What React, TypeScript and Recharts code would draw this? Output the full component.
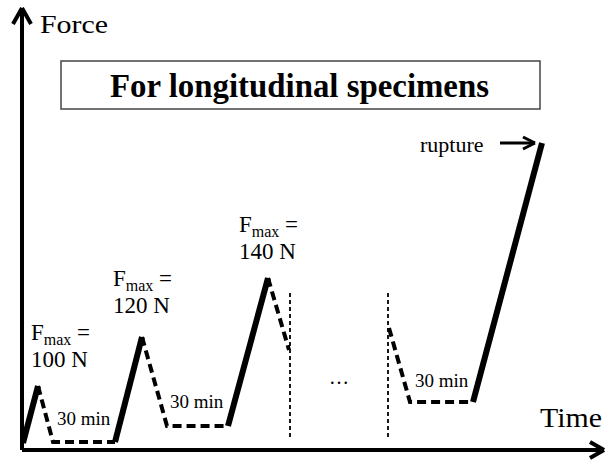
import React from 'react';
import {ComposedChart, Line, XAxis, YAxis, ReferenceLine} from 'recharts';

// load ramps (solid) and hold/unload parts (dashed), time vs force in arbitrary units
const loadRamp1 = [{t: 0.25, f: 1.75}, {t: 4, f: 16}];
const loadRamp2 = [{t: 23.25, f: 2}, {t: 30, f: 28.25}];
const loadRamp3 = [{t: 51.5, f: 6}, {t: 61.5, f: 43}];
const loadRampFinal = [{t: 112.75, f: 12}, {t: 130, f: 76.75}];

const relax1 = [{t: 4, f: 16}, {t: 7.75, f: 2}, {t: 23.25, f: 2}];
const relax2 = [{t: 30, f: 28.25}, {t: 36.25, f: 6}, {t: 51.5, f: 6}];
const relax3 = [{t: 61.5, f: 43}, {t: 66.75, f: 25}];
const relaxLast = [{t: 91.75, f: 30.5}, {t: 97, f: 12}, {t: 112.75, f: 12}];

const breakTimes = [67, 91.5];
const breakForce = [3.25, 39.5];

const peakLabels = ['100 N', '120 N', '140 N'];
const holdLabel = '30 min';

const FONT = 'Liberation Serif, Times New Roman, serif';

const Fmax = ({x, y, value}: {x: number, y: number, value: string}) => (
	<g>
		<text x={x} y={y} fontSize={23}>
			F<tspan fontSize={16} dy={5}>max</tspan><tspan dy={-5}> =</tspan>
		</text>
		<text x={x} y={y + 27} fontSize={23}>{value}</text>
	</g>
);

export default function App() {
	const solid = {stroke: '#000', strokeWidth: 6, dot: false, activeDot: false, isAnimationActive: false, type: 'linear' as const};
	const dashed = {stroke: '#000', strokeWidth: 4, strokeDasharray: '9 5', dot: false, activeDot: false, isAnimationActive: false, type: 'linear' as const};
	const arrow = {stroke: '#000', strokeWidth: 4, ifOverflow: 'visible' as const};
	return <div style={{position: 'absolute', left: 0, top: 0, width: 605, height: 464, background: '#fff'}}>
		<ComposedChart width={605} height={464} margin={{top: 10, right: 0, bottom: 14, left: 22}}>
			<XAxis type="number" dataKey="t" domain={[0, 145.75]} hide/>
			<YAxis type="number" dataKey="f" domain={[0, 110]} hide/>
			{/* axes with arrows */}
			<ReferenceLine segment={[{x: 0, y: 0}, {x: 0, y: 110.5}]} {...arrow}/>
			<ReferenceLine segment={[{x: -2.25, y: 106.5}, {x: 0, y: 110.5}]} {...arrow}/>
			<ReferenceLine segment={[{x: 2.25, y: 106.5}, {x: 0, y: 110.5}]} {...arrow}/>
			<ReferenceLine segment={[{x: 0, y: 0}, {x: 145.5, y: 0}]} {...arrow}/>
			<ReferenceLine segment={[{x: 142, y: 2}, {x: 145.5, y: 0}]} {...arrow}/>
			<ReferenceLine segment={[{x: 142, y: -2}, {x: 145.5, y: 0}]} {...arrow}/>
			{/* rupture arrow */}
			<ReferenceLine segment={[{x: 119.5, y: 76.75}, {x: 128.25, y: 76.75}]} {...arrow} strokeWidth={3}/>
			<ReferenceLine segment={[{x: 125.25, y: 78.25}, {x: 128.25, y: 76.75}]} {...arrow} strokeWidth={3}/>
			<ReferenceLine segment={[{x: 125.25, y: 75.25}, {x: 128.25, y: 76.75}]} {...arrow} strokeWidth={3}/>
			{breakTimes.map((t, i) =>
				<ReferenceLine key={i} segment={[{x: t, y: breakForce[0]}, {x: t, y: breakForce[1]}]} stroke="#000" strokeWidth={1.8} strokeDasharray="4 3"/>
			)}
			<Line data={loadRamp1} dataKey="f" {...solid}/>
			<Line data={loadRamp2} dataKey="f" {...solid}/>
			<Line data={loadRamp3} dataKey="f" {...solid}/>
			<Line data={loadRampFinal} dataKey="f" {...solid}/>
			<Line data={relax1} dataKey="f" {...dashed}/>
			<Line data={relax2} dataKey="f" {...dashed}/>
			<Line data={relax3} dataKey="f" {...dashed}/>
			<Line data={relaxLast} dataKey="f" {...dashed}/>
		</ComposedChart>
		<svg width={605} height={464} style={{position: 'absolute', left: 0, top: 0, pointerEvents: 'none', fontFamily: FONT}}>
			<text x={40} y={33} fontSize={26} textLength={68} lengthAdjust="spacingAndGlyphs">Force</text>
			<rect x={61} y={61} width={479} height={48} fill="none" stroke="#444" strokeWidth={1.5}/>
			<text x={110} y={97} fontSize={34} fontWeight="bold" textLength={379} lengthAdjust="spacingAndGlyphs">For longitudinal specimens</text>
			<Fmax x={31} y={340} value={peakLabels[0]}/>
			<Fmax x={113} y={286} value={peakLabels[1]}/>
			<Fmax x={239} y={232} value={peakLabels[2]}/>
			<text x={57} y={425} fontSize={19}>{holdLabel}</text>
			<text x={170} y={408} fontSize={19}>{holdLabel}</text>
			<text x={415} y={387} fontSize={19}>{holdLabel}</text>
			<text x={329} y={384} fontSize={20}>…</text>
			<text x={420} y={152} fontSize={22}>rupture</text>
			<text x={540} y={427} fontSize={27} textLength={62} lengthAdjust="spacingAndGlyphs">Time</text>
		</svg>
	</div>;
}
